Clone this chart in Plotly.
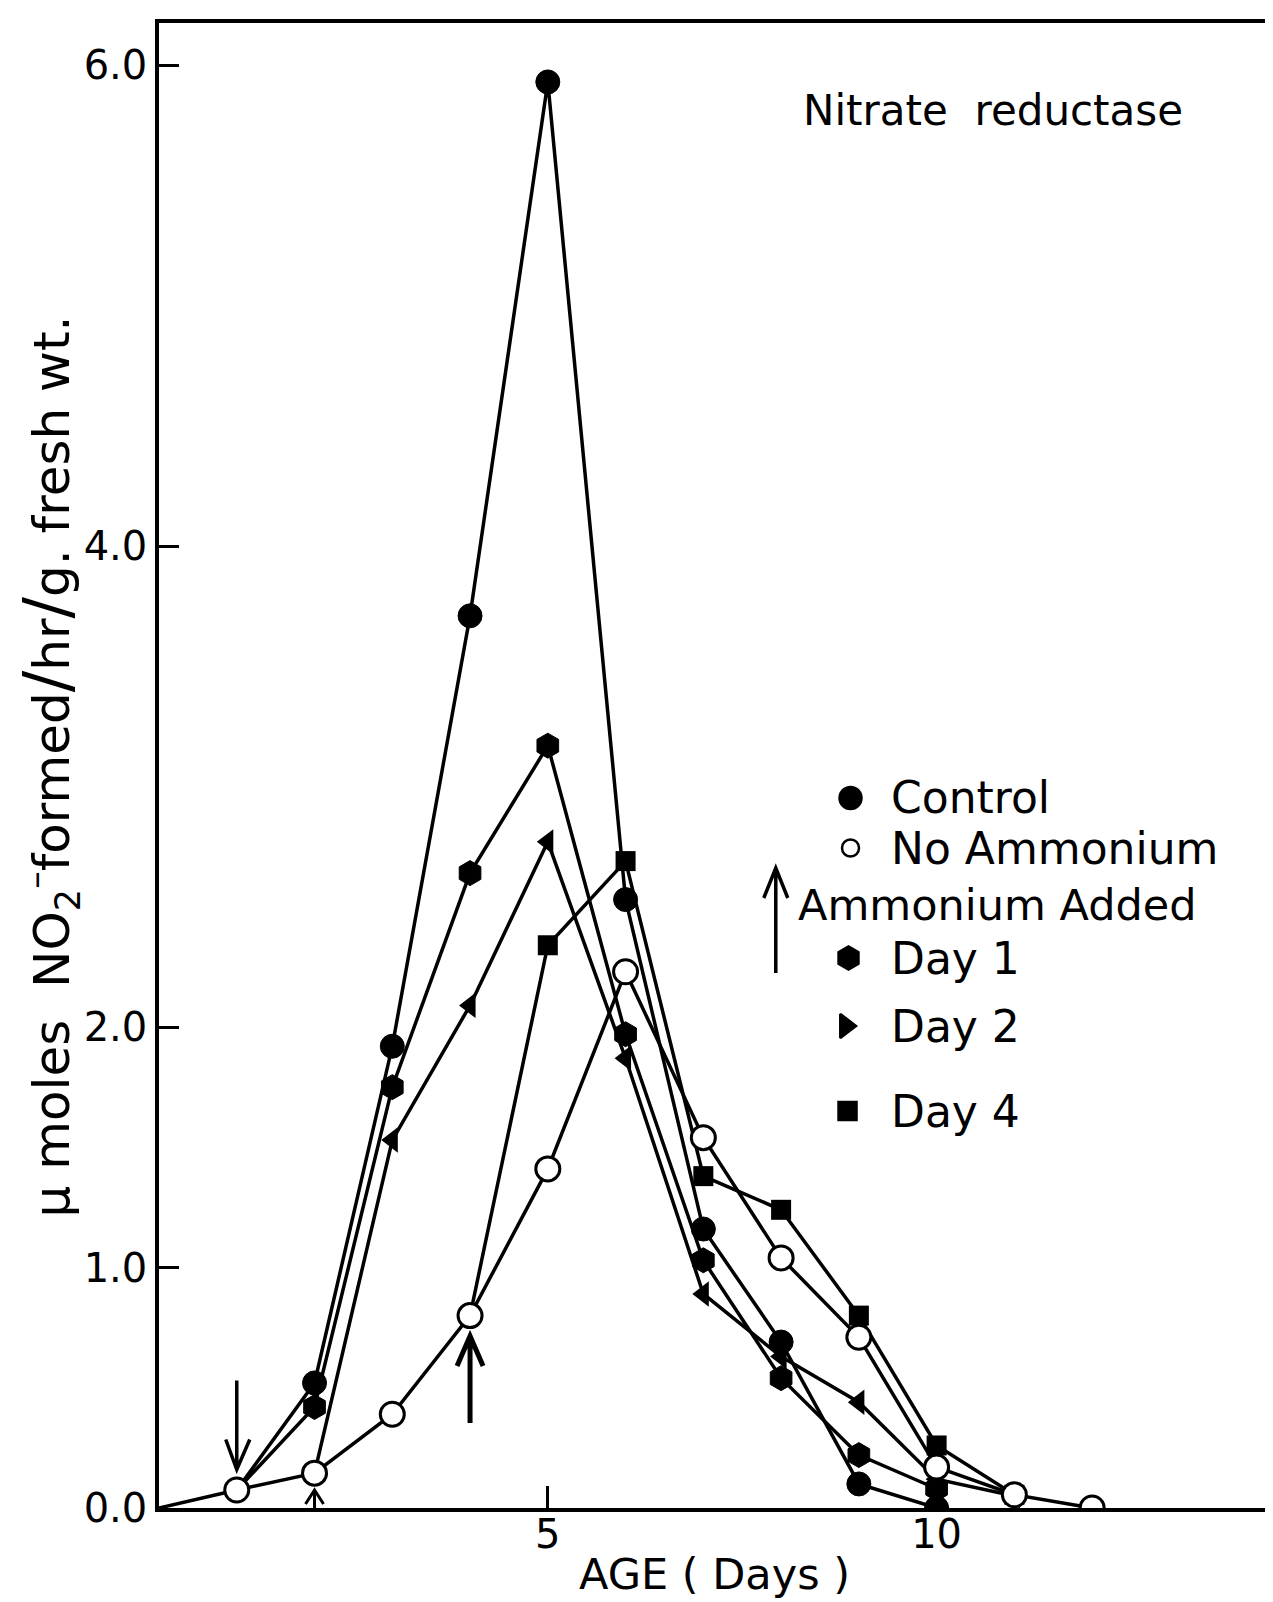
import plotly.graph_objects as go

# ---- data ----
control_days = [1, 2, 3, 4, 5, 6, 7, 8, 9, 10]
control_vals = [0.075, 0.52, 1.92, 3.71, 5.93, 2.53, 1.16, 0.69, 0.10, 0.0]

noamm_days = [0, 1, 2, 3, 4, 5, 6, 7, 8, 9, 10, 11, 12]
noamm_vals = [0.0, 0.075, 0.145, 0.39, 0.80, 1.41, 2.23, 1.54, 1.04, 0.71, 0.17, 0.055, 0.0]

day1_days = [1, 2, 3, 4, 5, 6, 7, 8, 9, 10]
day1_vals = [0.075, 0.42, 1.75, 2.64, 3.17, 1.97, 1.03, 0.54, 0.22, 0.08]

day2_days = [2, 3, 4, 5, 6, 7, 8, 9, 10, 11]
day2_vals = [0.145, 1.53, 2.09, 2.77, 1.87, 0.89, 0.63, 0.44, 0.12, 0.05]

day4_days = [4, 5, 6, 7, 8, 9, 10, 11]
day4_vals = [0.80, 2.34, 2.69, 1.38, 1.24, 0.80, 0.26, 0.055]

x_tick_vals = [5, 10]
x_tick_text = ["5", "10"]
y_tick_vals = [0, 1, 2, 4, 6]
y_tick_text = ["0.0", "1.0", "2.0", "4.0", "6.0"]

legend_labels = ["Control", "No Ammonium", "Day 1", "Day 2", "Day 4"]
legend_heading = "Ammonium Added"
title_text = "Nitrate  reductase"
x_title = "AGE ( Days )"
y_title = ("μ moles  NO<sub>2</sub><sup>–</sup>formed<span style='font-size:64px'>/</span>hr"
           "<span style='font-size:64px'>/</span>g. fresh wt.")

FONT = "DejaVu Sans"
W, H = 1273, 1602
L, R, T, B = 151, 6, 15, 102
PW, PH = W - L - R, H - T - B


def px(x):
    return (x - L) / PW


def py(y):
    return (H - B - y) / PH


fig = go.Figure()
line = dict(color="black", width=3.5)


def sizes(n, s, hide_first=False):
    out = [s] * n
    if hide_first:
        out[0] = 0
    return out

fig.add_trace(go.Scatter(x=control_days, y=control_vals, mode="lines+markers", line=line,
                         marker=dict(symbol="circle", size=24, color="black", opacity=1,
                                     line=dict(color="black", width=1)),
                         showlegend=False))
fig.add_trace(go.Scatter(x=day1_days, y=day1_vals, mode="lines+markers", line=line,
                         marker=dict(symbol="hexagon", size=25, color="black", opacity=1,
                                     line=dict(color="black", width=1)),
                         showlegend=False))
fig.add_trace(go.Scatter(x=day2_days, y=day2_vals, mode="lines+markers", line=line,
                         marker=dict(symbol="triangle-left", size=sizes(len(day2_days), 22, True),
                                     color="black", opacity=1, line=dict(color="black", width=0)),
                         showlegend=False))
fig.add_trace(go.Scatter(x=day4_days, y=day4_vals, mode="lines+markers", line=line,
                         marker=dict(symbol="square", size=sizes(len(day4_days), 20, True),
                                     color="black", opacity=1, line=dict(color="black", width=0)),
                         showlegend=False))
fig.add_trace(go.Scatter(x=noamm_days, y=noamm_vals, mode="lines+markers", line=line,
                         marker=dict(symbol="circle", size=sizes(len(noamm_days), 24, True),
                                     color="white", opacity=1, line=dict(color="black", width=3)),
                         showlegend=False))

# legend keys on an overlay axis spanning the plot area (0..1)
leg_x = [px(845), px(845), px(843), px(840), px(842)]
leg_y = [py(790), py(840), py(950), py(1018), py(1103)]
leg_sym = ["circle", "circle", "hexagon", "triangle-right", "square"]
leg_size = [22, 17, 23, 21, 18]
leg_fill = ["black", "white", "black", "black", "black"]
fig.add_trace(go.Scatter(x=leg_x, y=leg_y, xaxis="x2", yaxis="y2", mode="markers",
                         marker=dict(symbol=leg_sym, size=leg_size, color=leg_fill, opacity=1,
                                     line=dict(color="black", width=2.5)),
                         showlegend=False, hoverinfo="skip"))

ann = []
for lab, ly in zip(legend_labels, [790, 840, 950, 1018, 1103]):
    ann.append(dict(text=lab, x=px(884), y=py(ly), xref="paper", yref="paper",
                    xanchor="left", yanchor="middle", showarrow=False,
                    font=dict(family=FONT, size=44, color="black")))
ann.append(dict(text=legend_heading, x=px(790), y=py(897), xref="paper", yref="paper",
                xanchor="left", yanchor="middle", showarrow=False,
                font=dict(family=FONT, size=43, color="black")))
ann.append(dict(text=title_text, x=px(795), y=py(103), xref="paper", yref="paper",
                xanchor="left", yanchor="middle", showarrow=False,
                font=dict(family=FONT, size=42, color="black")))
ann.append(dict(text=x_title, x=px(708), y=py(1566), xref="paper", yref="paper",
                xanchor="center", yanchor="middle", showarrow=False,
                font=dict(family=FONT, size=43, color="black")))
ann.append(dict(text=y_title, x=px(41), y=py(758), xref="paper", yref="paper",
                xanchor="center", yanchor="middle", showarrow=False, textangle=-90,
                font=dict(family=FONT, size=50, color="black")))

shapes = []
# arrow: ammonium added day 1 (down arrow)
shapes.append(dict(type="path", xref="x", yref="y", xsizemode="pixel", ysizemode="pixel",
                   xanchor=1, yanchor=0.16,
                   path="M0,89 L0,0 M-11,30 L0,0 L13,30",
                   line=dict(color="black", width=3.5)))
# small up arrow at day 2
shapes.append(dict(type="path", xref="x", yref="y", xsizemode="pixel", ysizemode="pixel",
                   xanchor=2, yanchor=0,
                   path="M-9,4 L0,18 L9,4 M0,18 L0,0",
                   line=dict(color="black", width=3)))
# thick up arrow at day 4
shapes.append(dict(type="path", xref="x", yref="y", xsizemode="pixel", ysizemode="pixel",
                   xanchor=4, yanchor=0.715,
                   path="M0,0 L0,-87 M-13,-30 L0,0 L13,-30",
                   line=dict(color="black", width=5)))
# legend arrow
shapes.append(dict(type="path", xref="paper", yref="paper", xsizemode="pixel", ysizemode="pixel",
                   xanchor=px(770), yanchor=py(860),
                   path="M0,0 L0,-105 M-12,-30 L0,0 L12,-30",
                   line=dict(color="black", width=3.5)))

axis_common = dict(showline=True, linewidth=3.5, linecolor="black", mirror=True,
                   showgrid=False, zeroline=False, ticks="inside", tickwidth=3,
                   tickcolor="black", tickfont=dict(family=FONT, size=40, color="black"))

fig.update_layout(
    width=W, height=H,
    margin=dict(l=L, r=R, t=T, b=B, pad=0),
    paper_bgcolor="white", plot_bgcolor="white",
    showlegend=False,
    font=dict(family=FONT, color="black"),
    xaxis=dict(range=[0, 14.3], tickvals=x_tick_vals, ticktext=x_tick_text,
               ticklen=22, ticklabelstandoff=-12, **axis_common),
    yaxis=dict(range=[0, 6.175], tickvals=y_tick_vals, ticktext=y_tick_text,
               ticklen=20, **axis_common),
    xaxis2=dict(overlaying="x", range=[0, 1], visible=False),
    yaxis2=dict(overlaying="y", range=[0, 1], visible=False),
    annotations=ann,
    shapes=shapes,
)

fig.write_html("out.html")
